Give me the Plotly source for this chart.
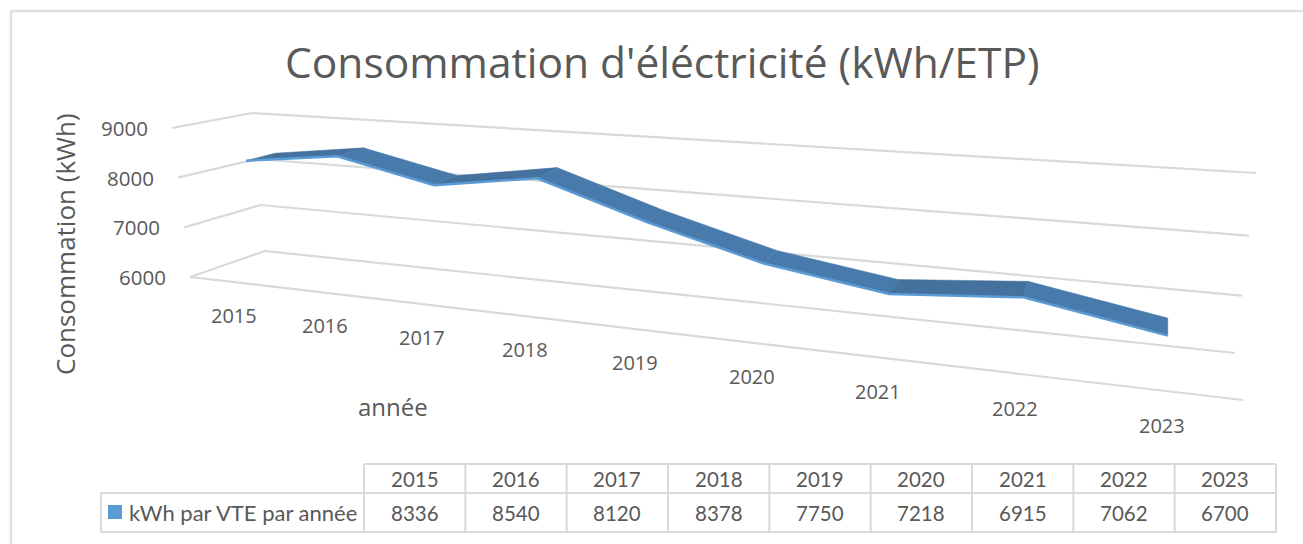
import numpy as np
import plotly.graph_objects as go

years = ["2015", "2016", "2017", "2018", "2019", "2020", "2021", "2022", "2023"]
values = [8336, 8540, 8120, 8378, 7750, 7218, 6915, 7062, 6700]
tick_values = [6000, 7000, 8000, 9000]
title_text = "Consommation d'éléctricité (kWh/ETP)"
y_title = "Consommation (kWh)"
x_title = "année"
series_name = "kWh par VTE par année"

TEXT = "#595959"
GRID = "#d9d9d9"
FONT = "Open Sans"
TABLE_FONT = "Lato"


# ---- oblique projection of the Excel 3-D chart: (category index, value) -> page
def front_x(i):
    return (246 + 81.6 * i) / (1 - 0.02879 * i)


def front_y(x, v):
    t = x - 246
    return 277.5 + 0.115 * t - (50 + 0.02 * t) * (v - 6000) / 1000


def depth_dx(x):
    return 29 * (1 - (x - 246) / 922)


def depth_dy(x):
    return 7.5 + 10 * (x - 246) / 922


def wall_point(v, side):
    """Gridline anchor for a tick value: 0 front-left, 1 back-left, 2 right end."""
    h = (v - 6000) / 3000
    if side == 0:
        return 190 - 18 * h, 277 - 149 * h
    if side == 1:
        return 265 - 13 * h, 251 - 138 * h
    return 1235 + 21 * h, 353 - 180 * h + 3 * np.sin(np.pi * h)


fig = go.Figure()

# gridlines
for v in tick_values:
    pts = [wall_point(v, s) for s in (0, 1, 2)]
    fig.add_trace(go.Scatter(x=[p[0] for p in pts], y=[p[1] for p in pts], mode="lines",
                             line=dict(color=GRID, width=2.2), hoverinfo="skip", showlegend=False))
# floor front edge
fx0, fy0 = wall_point(tick_values[0], 0)
fig.add_trace(go.Scatter(x=[fx0, 1243], y=[fy0, 400], mode="lines",
                         line=dict(color=GRID, width=2.2), hoverinfo="skip", showlegend=False))

# ribbon
n = len(values)
xf = [front_x(i) for i in range(n)]
yf = [front_y(xf[i], values[i]) for i in range(n)]
xb = [xf[i] + depth_dx(xf[i]) for i in range(n)]
yb = [yf[i] - depth_dy(xf[i]) for i in range(n)]
for i in range(n - 1):
    slope = (values[i + 1] - values[i]) / 1000
    flat = abs(slope) < 0.3
    color = "#44719d" if flat else "#487bab"
    fig.add_trace(go.Scatter(x=[xf[i], xf[i + 1], xb[i + 1], xb[i], xf[i]],
                             y=[yf[i], yf[i + 1], yb[i + 1], yb[i], yf[i]],
                             mode="lines", fill="toself", fillcolor=color,
                             line=dict(color=color, width=0.5), hoverinfo="skip", showlegend=False))
fig.add_trace(go.Scatter(x=xf, y=yf, mode="lines", line=dict(color="#5b9bd5", width=2.5),
                         hoverinfo="skip", showlegend=False))

annotations = []


def label(x, y, text, size, font=FONT, **kw):
    annotations.append(dict(x=x, y=y, xref="x", yref="y", text=text, showarrow=False,
                            font=dict(family=font, size=size, color=TEXT), **kw))


label(662, 61, title_text, 42.5)
label(65, 244, y_title, 26, textangle=-90)
label(393, 406, x_title, 24)
for v in tick_values:
    px, py = wall_point(v, 0)
    label(px - 22, py, str(v), 20.5, xanchor="right")
for i, y in enumerate(years):
    x = xf[i] - 12 + 6 * max(0, (xf[i] - 846) / 322)
    label(x, 315 + 0.1195 * (x - 234), y, 20)

# data table
TX0, TX1 = 364, 101
COLW = (1276 - TX0) / n
T0, T1, T2 = 464, 493, 532
shapes = [
    dict(type="line", xref="paper", yref="paper", x0=11 / 1303, x1=1, y0=1 - 11 / 544, y1=1 - 11 / 544,
         line=dict(color="#e0e0e0", width=2.5), layer="below"),
    dict(type="line", xref="paper", yref="paper", x0=11 / 1303, x1=11 / 1303, y0=0, y1=1 - 11 / 544,
         line=dict(color="#e0e0e0", width=2.5), layer="below"),
]
tbl_line = dict(color=GRID, width=2)
right = TX0 + COLW * n
for yy, a in ((T0, TX0), (T1, TX1), (T2, TX1)):
    shapes.append(dict(type="line", xref="x", yref="y", x0=a, x1=right, y0=yy, y1=yy, line=tbl_line))
shapes.append(dict(type="line", xref="x", yref="y", x0=TX1, x1=TX1, y0=T1, y1=T2, line=tbl_line))
for c in range(n + 1):
    xc = TX0 + COLW * c
    shapes.append(dict(type="line", xref="x", yref="y", x0=xc, x1=xc, y0=T0, y1=T2, line=tbl_line))
for c in range(n):
    xc = TX0 + COLW * (c + 0.5)
    label(xc, (T0 + T1) / 2, years[c], 20.5, font=TABLE_FONT)
    label(xc, (T1 + T2) / 2, str(values[c]), 20.5, font=TABLE_FONT)
shapes.append(dict(type="rect", xref="x", yref="y", x0=108, x1=122, y0=505, y1=519,
                   fillcolor="#5b9bd5", line=dict(width=0)))
label(127, (T1 + T2) / 2, series_name, 22, font=TABLE_FONT, xanchor="left")

fig.update_layout(
    width=1303, height=544, margin=dict(l=0, r=0, t=0, b=0),
    paper_bgcolor="white", plot_bgcolor="white", showlegend=False,
    xaxis=dict(range=[0, 1303], visible=False, fixedrange=True),
    yaxis=dict(range=[544, 0], visible=False, fixedrange=True),
    shapes=shapes, annotations=annotations,
)
fig.write_html("out.html", config={"displayModeBar": False},
               post_script="document.body.style.margin='0';document.body.style.overflow='hidden';")
